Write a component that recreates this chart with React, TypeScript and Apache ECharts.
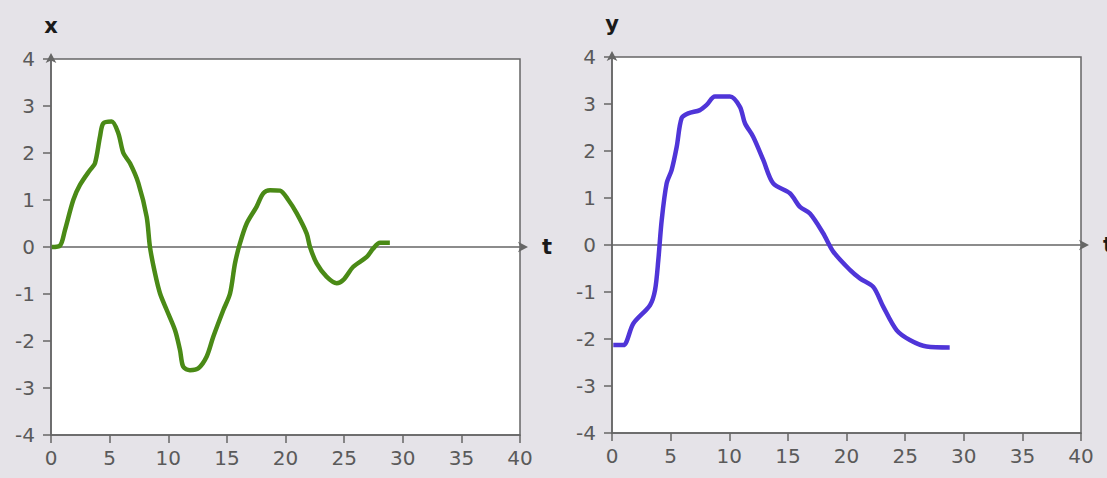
import React, { useEffect, useRef } from "react";
import * as echarts from "echarts";

const tX = [0.06, 0.77, 1.19, 1.9, 2.47, 3.33, 3.75, 4.18, 4.46, 5.17, 5.74, 6.17, 6.74, 7.45, 8.16, 8.44, 8.87, 9.3, 9.87, 10.58, 11.0, 11.28, 11.85, 12.57, 13.28, 13.84, 14.7, 15.27, 15.69, 16.12, 16.69, 17.54, 18.1, 18.68, 19.53, 20.24, 20.95, 21.8, 22.09, 22.66, 23.5, 24.37, 24.93, 25.78, 26.93, 27.49, 28.06, 28.9];
const xVals = [0, 0.03, 0.36, 1.0, 1.32, 1.64, 1.78, 2.35, 2.63, 2.67, 2.42, 2.0, 1.78, 1.36, 0.64, 0, -0.56, -0.99, -1.34, -1.77, -2.19, -2.55, -2.62, -2.58, -2.33, -1.91, -1.34, -0.99, -0.35, 0.08, 0.5, 0.86, 1.14, 1.21, 1.2, 1.0, 0.72, 0.29, 0, -0.35, -0.63, -0.77, -0.7, -0.42, -0.21, -0.03, 0.09, 0.09];

const tY = [0.11, 0.96, 1.82, 3.24, 3.67, 3.95, 4.24, 4.66, 5.09, 5.52, 5.94, 6.5, 7.5, 8.07, 8.78, 10.06, 10.91, 11.34, 12.05, 12.9, 13.75, 15.17, 16.03, 16.88, 18.01, 18.87, 20.29, 21.14, 22.28, 23.13, 24.27, 25.4, 26.83, 28.8];
const yVals = [-2.13, -2.13, -1.67, -1.28, -0.96, -0.32, 0.53, 1.31, 1.6, 2.09, 2.7, 2.8, 2.87, 2.98, 3.16, 3.16, 2.94, 2.59, 2.3, 1.81, 1.31, 1.1, 0.81, 0.67, 0.25, -0.14, -0.53, -0.71, -0.89, -1.31, -1.81, -2.02, -2.16, -2.18];

const FONT = "DejaVu Sans";

function makeAxes(gridIndex: number, yName: string) {
  const x = [
    {
      type: "value",
      gridIndex,
      min: 0,
      max: 40,
      interval: 5,
      position: "bottom",
      axisLine: { show: true, onZero: false, lineStyle: { color: "#666", width: 1.5 } },
      axisTick: { show: true, length: 8, lineStyle: { color: "#666", width: 1.5 } },
      axisLabel: { color: "#5a5a5a", fontFamily: FONT, fontSize: 20, margin: 13 },
      splitLine: { show: false },
    },
    {
      type: "value",
      gridIndex,
      min: 0,
      max: 40,
      interval: 5,
      position: "top",
      name: "t",
      nameLocation: "end",
      nameGap: 22,
      nameTextStyle: { color: "#1a1a1a", fontFamily: FONT, fontSize: 21, fontWeight: "bold", verticalAlign: "middle" },
      axisLine: {
        show: true,
        onZero: true,
        symbol: ["none", "arrow"],
        symbolSize: [8, 10],
        symbolOffset: [0, 8],
        lineStyle: { color: "#666", width: 1.5 },
      },
      axisTick: { show: false },
      axisLabel: { show: false },
      splitLine: { show: false },
    },
  ];
  const y = {
    type: "value",
    gridIndex,
    min: -4,
    max: 4,
    interval: 1,
    position: "left",
    name: yName,
    nameLocation: "end",
    nameGap: 23,
    nameTextStyle: { color: "#1a1a1a", fontFamily: FONT, fontSize: 21, fontWeight: "bold", align: "center" },
    axisLine: {
      show: true,
      onZero: false,
      symbol: ["none", "arrow"],
      symbolSize: [8, 10],
      symbolOffset: [0, 6],
      lineStyle: { color: "#666", width: 1.5 },
    },
    axisTick: { show: true, length: 8, lineStyle: { color: "#666", width: 1.5 } },
    axisLabel: { color: "#5a5a5a", fontFamily: FONT, fontSize: 20, margin: 16 },
    splitLine: { show: false },
  };
  return { x, y };
}

export default function App() {
  const ref = useRef<HTMLDivElement>(null);
  useEffect(() => {
    if (!ref.current) return;
    const chart = echarts.init(ref.current, null, { renderer: "svg" });
    const a0 = makeAxes(0, "x");
    const a1 = makeAxes(1, "y");
    chart.setOption({
      animation: false,
      backgroundColor: "#e5e3e8",
      grid: [
        { left: 51, top: 59, width: 469, height: 376, show: true, backgroundColor: "#ffffff", borderColor: "#666", borderWidth: 1.5, outerBoundsMode: "none", containLabel: false },
        { left: 612, top: 57, width: 469, height: 376, show: true, backgroundColor: "#ffffff", borderColor: "#666", borderWidth: 1.5, outerBoundsMode: "none", containLabel: false },
      ],
      xAxis: [...a0.x, ...a1.x],
      yAxis: [a0.y, a1.y],
      series: [
        {
          type: "line",
          xAxisIndex: 0,
          yAxisIndex: 0,
          data: tX.map((t, i) => [t, xVals[i]]),
          showSymbol: false,
          smooth: 0.3,
          lineStyle: { color: "#4a8a16", width: 4.5 },
        },
        {
          type: "line",
          xAxisIndex: 2,
          yAxisIndex: 1,
          data: tY.map((t, i) => [t, yVals[i]]),
          showSymbol: false,
          smooth: 0.3,
          lineStyle: { color: "#4f35d8", width: 4.5 },
        },
      ],
    });
    return () => chart.dispose();
  }, []);
  return <div ref={ref} style={{ position: "fixed", left: 0, top: 0, width: 1107, height: 478 }} />;
}
